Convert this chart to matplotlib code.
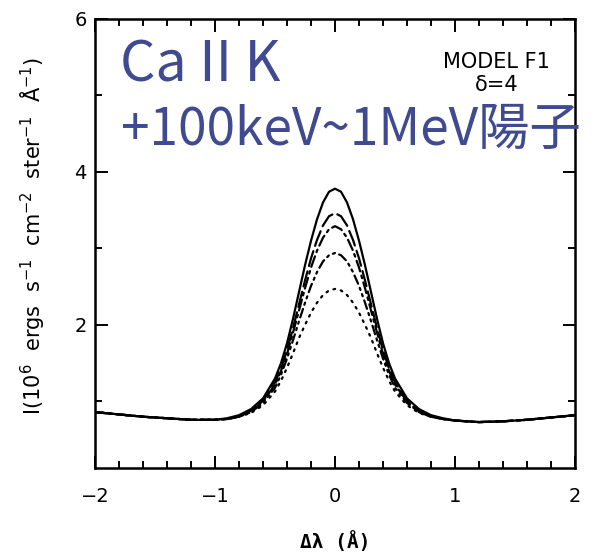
import numpy as np
import matplotlib
matplotlib.use("Agg")
import matplotlib.pyplot as plt
from matplotlib.ticker import MultipleLocator

# continuum wings (same for every model curve)
x_wing_left = [-2.0, -1.8, -1.6, -1.4, -1.2, -1.0]
y_wing_left = [0.86, 0.83, 0.80, 0.78, 0.76, 0.76]
x_wing_right = [1.0, 1.2, 1.4, 1.6, 1.8, 2.0]
y_wing_right = [0.75, 0.73, 0.74, 0.76, 0.79, 0.82]

# line core, tabulated at |dlambda| (profiles are symmetric)
x_core_half = [0.0, 0.05, 0.1, 0.15, 0.2, 0.25, 0.3, 0.35, 0.4, 0.45,
               0.5, 0.6, 0.7, 0.8, 0.9]
core_solid = [3.78, 3.74, 3.60, 3.38, 3.10, 2.78, 2.43, 2.08, 1.76, 1.50,
              1.30, 1.04, 0.90, 0.82, 0.78]
core_dash = [3.46, 3.42, 3.30, 3.11, 2.87, 2.58, 2.27, 1.96, 1.67, 1.43,
             1.25, 1.01, 0.88, 0.81, 0.77]
core_dashdot = [3.29, 3.25, 3.14, 2.97, 2.75, 2.48, 2.19, 1.90, 1.62, 1.40,
                1.22, 1.00, 0.87, 0.80, 0.77]
core_dashdotdot = [2.94, 2.91, 2.83, 2.69, 2.51, 2.29, 2.05, 1.80, 1.56, 1.35,
                   1.18, 0.98, 0.86, 0.80, 0.77]
core_dot = [2.47, 2.45, 2.39, 2.29, 2.16, 2.00, 1.83, 1.63, 1.44, 1.27,
            1.13, 0.95, 0.85, 0.80, 0.77]

x_ticks = [-2, -1, 0, 1, 2]
x_ticklabels = ["\u22122", "\u22121", "0", "1", "2"]
y_ticks = [2, 4, 6]

styles = ["-", (0, (7, 2.5)), (0, (5, 2, 1.2, 2)), (0, (4, 2, 1, 2, 1, 2)),
          (0, (0.8, 2.6))]


def full_profile(core):
    xc = np.array(x_core_half)
    yc = np.array(core)
    x = np.concatenate([x_wing_left, -xc[:0:-1], xc, x_wing_right])
    y = np.concatenate([y_wing_left, yc[:0:-1], yc, y_wing_right])
    return x, y


fig = plt.figure(figsize=(5.94, 5.58), dpi=100)
ax = fig.add_axes([0.160, 0.1613, 0.808, 0.805])

for core, ls in zip([core_solid, core_dash, core_dashdot, core_dashdotdot, core_dot],
                    styles):
    x, y = full_profile(core)
    ax.plot(x, y, color="black", lw=1.6, ls=ls, dash_capstyle="round")

ax.set_xlim(-2, 2)
ax.set_ylim(0.13, 6)
ax.set_xticks(x_ticks)
ax.set_xticklabels(x_ticklabels)
ax.xaxis.set_minor_locator(MultipleLocator(0.2))
ax.set_yticks(y_ticks)
ax.yaxis.set_minor_locator(MultipleLocator(1))
ax.tick_params(which="both", direction="in", top=True, right=True, width=1.4,
               labelsize=14)
ax.tick_params(which="major", length=9)
ax.tick_params(which="minor", length=5)
ax.tick_params(axis="x", pad=14)
ax.tick_params(axis="y", pad=6)
for s in ax.spines.values():
    s.set_linewidth(1.8)

fig.text(33 / 594, 0.578,
         r"I(10$^6$  ergs  s$^{-1}$  cm$^{-2}$  ster$^{-1}$  Å$^{-1}$)",
         rotation=90, ha="center", va="center", fontsize=15)
fig.text(335 / 594, 1 - 542 / 558, "Δλ (Å)", ha="center", va="center",
         fontsize=14, family="DejaVu Sans Mono", weight="bold")

fig.text(496 / 594, 1 - 62 / 558, "MODEL F1", ha="center", va="center",
         fontsize=15)
fig.text(497 / 594, 1 - 85 / 558, "δ=4", ha="center", va="center",
         fontsize=15)

blue = "#3f4a91"
fam = ["Noto Sans CJK JP", "DejaVu Sans"]
fig.text(120 / 594, 1 - 82 / 558, "Ca II K", color=blue, fontsize=40,
         family=fam, ha="left", va="baseline")
fig.text(121 / 594, 1 - 145 / 558, "+100keV~1MeV陽子", color=blue, fontsize=37,
         family=fam, ha="left", va="baseline")

fig.savefig("out.png", dpi=100)
